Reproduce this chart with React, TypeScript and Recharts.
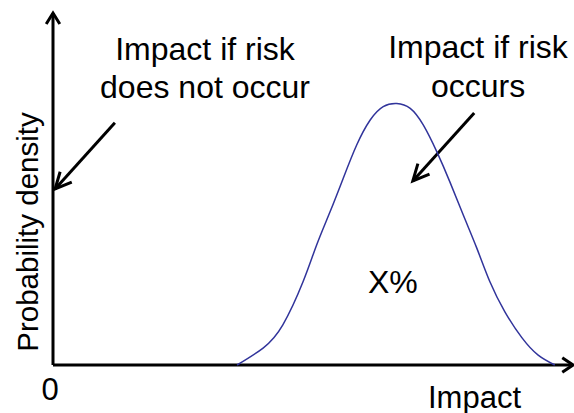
import React from 'react';
import { LineChart, Line, XAxis, YAxis, ReferenceLine } from 'recharts';

// curve (impact 0-100 along the x axis, density 0-100 up the y axis)
const impact = [35.4, 40.4, 44.2, 48.1, 50.7, 53.3, 55.8, 58.4, 61.0, 63.5, 66.1, 68.7, 71.2, 73.8, 76.3, 78.9, 81.5, 84.0, 86.9, 90.2, 93.3, 96.5];
const density = [0, 4.8, 11.4, 23.7, 34.1, 43.6, 53.0, 62.5, 69.6, 73.4, 74.3, 72.9, 68.2, 60.6, 52.1, 42.6, 33.2, 23.7, 15.1, 7.7, 2.8, 0];

// annotation arrows: [start, tip]
const noRiskArrow = [{ x: 11.9, y: 68.8 }, { x: 0.4, y: 50.0 }];
const riskArrow = [{ x: 81.0, y: 71.6 }, { x: 69.2, y: 52.3 }];
const xAxisSeg = [{ x: 0, y: 0 }, { x: 100, y: 0 }];
const yAxisSeg = [{ x: 0, y: 0 }, { x: 0, y: 100 }];

const data = impact.map((x, i) => ({ x, y: density[i] }));

const FONT = '"Liberation Sans", Arial, sans-serif';

const arrowShape = (len: number, spread: number) => (props: any) => {
  const { x1, y1, x2, y2 } = props;
  const ang = Math.atan2(y1 - y2, x1 - x2);
  const a = ang + spread;
  const b = ang - spread;
  const pts = `${x2 + len * Math.cos(a)},${y2 + len * Math.sin(a)} ${x2},${y2} ${x2 + len * Math.cos(b)},${y2 + len * Math.sin(b)}`;
  return (
    <g>
      <line x1={x1} y1={y1} x2={x2} y2={y2} stroke="#000" strokeWidth={3} />
      <polyline points={pts} fill="none" stroke="#000" strokeWidth={3} />
    </g>
  );
};

export default function App() {
  return (
    <div style={{ position: 'absolute', left: 0, top: 0, background: '#fff' }}>
      <LineChart width={574} height={413} data={data} margin={{ top: 13, right: 1, bottom: 48, left: 53 }}>
        <XAxis dataKey="x" type="number" domain={[0, 100]} hide />
        <YAxis type="number" domain={[0, 100]} hide />
        <ReferenceLine segment={xAxisSeg} ifOverflow="visible" shape={arrowShape(13, 0.6)} />
        <ReferenceLine segment={yAxisSeg} ifOverflow="visible" shape={arrowShape(13, 0.55)} />
        <ReferenceLine segment={noRiskArrow} ifOverflow="visible" shape={arrowShape(18, 0.45)} />
        <ReferenceLine segment={riskArrow} ifOverflow="visible" shape={arrowShape(18, 0.45)} />
        <Line
          dataKey="y"
          type="natural"
          stroke="#31349b"
          strokeWidth={1.5}
          dot={false}
          activeDot={false}
          isAnimationActive={false}
        />
        <g fontFamily={FONT} fill="#000">
          <text x={205} y={60} fontSize={32} textAnchor="middle">Impact if risk</text>
          <text x={205} y={98} fontSize={32} textAnchor="middle">does not occur</text>
          <text x={478} y={58} fontSize={32} textAnchor="middle">Impact if risk</text>
          <text x={478} y={97} fontSize={32} textAnchor="middle">occurs</text>
          <text x={368} y={293} fontSize={32}>X%</text>
          <text x={50} y={400} fontSize={31} textAnchor="middle">0</text>
          <text x={428} y={408} fontSize={31}>Impact</text>
          <text transform="translate(38,232) rotate(-90)" fontSize={29.5} textAnchor="middle">
            Probability density
          </text>
        </g>
      </LineChart>
    </div>
  );
}
